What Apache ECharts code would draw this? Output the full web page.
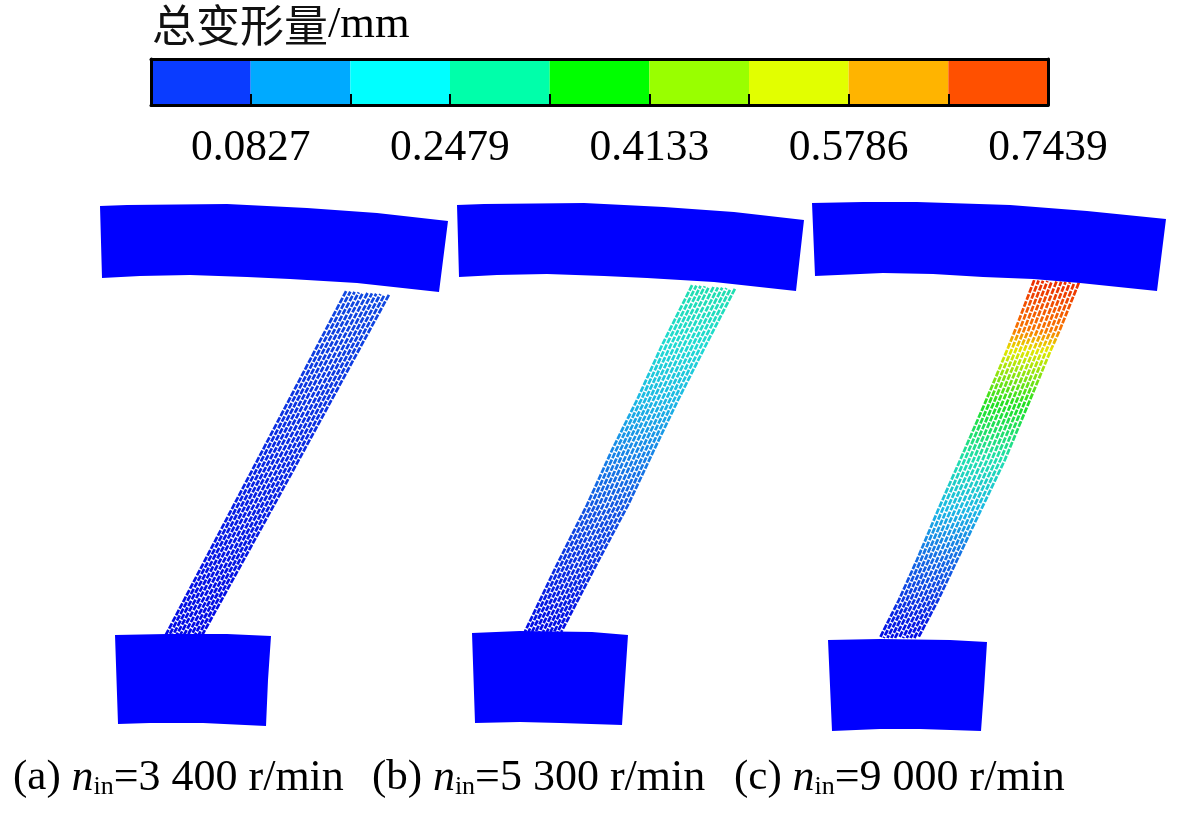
<!DOCTYPE html>
<html><head><meta charset="utf-8">
<style>html,body{margin:0;padding:0;background:#fff}#c{width:1181px;height:813px}</style>
<script src="https://cdn.jsdelivr.net/npm/echarts@6/dist/echarts.min.js"></script>
</head><body><div id="c"></div>
<script>
// colour bar
const binEdges = [0.0827,0.1653,0.2479,0.3306,0.4133,0.4959,0.5786,0.6612,0.7439];
const tickLabels = [0.0827,0.2479,0.4133,0.5786,0.7439];
const bins = ['b1','b2','b3','b4','b5','b6','b7','b8','b9'];
const binFill = [1,1,1,1,1,1,1,1,1];
const binColors = ['#0a3cff','#00aaff','#00ffff','#00ffaa','#00ff00','#99ff00','#e2ff00','#ffb400','#ff5000'];

// geometry (picture units)
const hubA = [[100,206],[127,205],[227,204],[307,208],[377,213],[448,221],[439,292],[357,283],[290,279],[247,277],[190,275],[140,276],[102,278]];
const hubB = [[457,205],[484,204],[584,203],[664,207],[734,212],[804,220],[796,291],[714,282],[647,278],[604,276],[547,274],[497,275],[459,277]];
const hubC = [[812,203],[863,202],[917,202],[1010,205],[1087,211],[1166,219],[1157,291],[1080,283],[1033,279],[983,277],[933,274],[883,273],[815,276]];
const footA = [[115,635],[167,634],[227,634],[271,636],[268,680],[266,726],[203,723],[150,723],[118,724]];
const footB = [[472,633],[520,631],[592,632],[628,635],[625,680],[622,725],[560,723],[520,722],[475,723]];
const footC = [[828,640],[880,639],[950,640],[987,642],[984,690],[981,731],[920,729],[880,729],[832,731]];

const leftA  = [[344,291],[254,463],[164,635]];
const rightA = [[391,295],[298,465],[204,635]];
const leftB  = [[690,285],[660,345],[635,400],[610,450],[585,505],[555,565],[523,632]];
const rightB = [[737,289],[708,345],[680,400],[656,450],[630,505],[598,565],[563,632]];
const leftC  = [[1032,280],[1013,330],[1005,350],[982,405],[958,460],[936,510],[915,560],[897,600],[878,638]];
const rightC = [[1081,283],[1062,330],[1053,350],[1030,405],[1007,460],[983,510],[959,560],[940,600],[920,638]];

// total deformation at each station, top to bottom
const defA = [0.075,0.04,0.008];
const defB = [0.28,0.24,0.19,0.14,0.09,0.05,0.01];
const defC = [0.72,0.63,0.53,0.37,0.28,0.19,0.11,0.055,0.01];

const strandPos = [0.045,0.135,0.225,0.315,0.405,0.5,0.595,0.685,0.775,0.865,0.955];

const ramp = ['#0000e6','#1048e0','#1890e8','#20d8e0','#20e0a0','#20e020','#90f010','#e0f000','#ffa800','#f04000','#e82000'];
const rampMax = 0.7439;
const SERIF = '"Liberation Serif","Times New Roman",serif';

function strandSeries(left, right, def){
  return {
    type:'custom', coordinateSystem:'cartesian2d', xAxisIndex:2, yAxisIndex:2, clip:false, silent:true, z:3,
    data: strandPos.map(p=>[p]),
    renderItem(params, api){
      const p = api.value(0);
      const pts = left.map((l,i)=>api.coord([l[0]+(right[i][0]-l[0])*p, l[1]+(right[i][1]-l[1])*p]));
      const y0 = pts[0][1], y1 = pts[pts.length-1][1];
      const stops = pts.map((q,i)=>({offset:(q[1]-y0)/(y1-y0), color:echarts.color.lerp(Math.min(1,def[i]/rampMax), ramp)}));
      return {type:'polyline', shape:{points:pts},
        style:{fill:'none', lineWidth:2.7, lineDash:[6,1.5], lineDashOffset:params.dataIndex*1.5,
          stroke:new echarts.graphic.LinearGradient(0,y0,0,y1,stops,true)}};
    }
  };
}
const outlineData = [hubA,hubB,hubC,footA,footB,footC];
const blocks = {
  type:'custom', coordinateSystem:'cartesian2d', xAxisIndex:2, yAxisIndex:2, clip:false, silent:true, z:4,
  data: outlineData.map((_,i)=>[i]),
  renderItem(params, api){
    return {type:'polygon', shape:{points:outlineData[api.value(0)].map(q=>api.coord(q))}, style:{fill:'#0000ff'}};
  }
};
const rich = {
  h:{fontFamily:SERIF,fontSize:43,fontWeight:'normal',color:'#000'},
  r:{fontFamily:SERIF,fontSize:44,fontWeight:'normal',color:'#000'},
  t:{fontFamily:SERIF,fontSize:44.5,fontWeight:'normal',color:'#000'},
  i:{fontFamily:SERIF,fontSize:44,fontWeight:'normal',fontStyle:'italic',color:'#000'},
  s:{fontFamily:SERIF,fontSize:26,fontWeight:'normal',color:'#000',verticalAlign:'bottom',padding:[18,0,0,0]},
  cn:{fontFamily:'"Noto Sans CJK SC"',fontSize:44,fontWeight:'normal',color:'#111'}
};
function caption(tag, speed, x){
  return {text:`{h|(${tag}) }{i|n}{s|in}{r|=${speed} r/min}`, left:x, top:756, textStyle:{rich,fontWeight:'normal'}, padding:0};
}
const blackLine = {show:true,onZero:false,lineStyle:{color:'#000',width:3}};
const chart = echarts.init(document.getElementById('c'),null,{renderer:'canvas'});
chart.setOption({
  animation:false, backgroundColor:'#fff',
  title:[
    {text:'{cn|总变形量}{t|/mm}', left:152, top:3, padding:0, textStyle:{rich,fontWeight:'normal'}},
    caption('a','3 400',13), caption('b','5 300',372), caption('c','9 000',734)
  ],
  grid:[
    {left:151,top:59,width:897,height:46,show:false},
    {left:0,top:0,width:1181,height:813,show:false}
  ],
  xAxis:[
    {gridIndex:0,type:'category',data:bins,position:'top',boundaryGap:true,z:6,axisLine:blackLine,axisTick:{show:false},axisLabel:{show:false},splitLine:{show:false}},
    {gridIndex:0,type:'value',position:'bottom',min:0,max:0.7439,z:6,axisLine:blackLine,splitLine:{show:false},
      axisTick:{show:true,inside:true,length:11,customValues:binEdges,lineStyle:{color:'#000',width:2}},
      axisLabel:{show:true,customValues:tickLabels,margin:22,fontFamily:SERIF,fontSize:43.5,color:'#000',formatter:v=>v.toFixed(4),hideOverlap:false}},
    {gridIndex:1,type:'value',min:0,max:1181,show:false}
  ],
  yAxis:[
    {gridIndex:0,type:'value',min:0,max:1,position:'left',z:6,axisLine:blackLine,axisTick:{show:false},axisLabel:{show:false},splitLine:{show:false}},
    {gridIndex:0,type:'value',min:0,max:1,position:'right',z:6,axisLine:blackLine,axisTick:{show:false},axisLabel:{show:false},splitLine:{show:false}},
    {gridIndex:1,type:'value',min:0,max:813,inverse:true,show:false}
  ],
  series:[
    {type:'bar',xAxisIndex:0,yAxisIndex:0,barWidth:'100%',silent:true,
     data:binFill.map((v,i)=>({value:v,itemStyle:{color:binColors[i]}}))},
    strandSeries(leftA,rightA,defA),
    strandSeries(leftB,rightB,defB),
    strandSeries(leftC,rightC,defC),
    blocks
  ]
});
</script></body></html>
